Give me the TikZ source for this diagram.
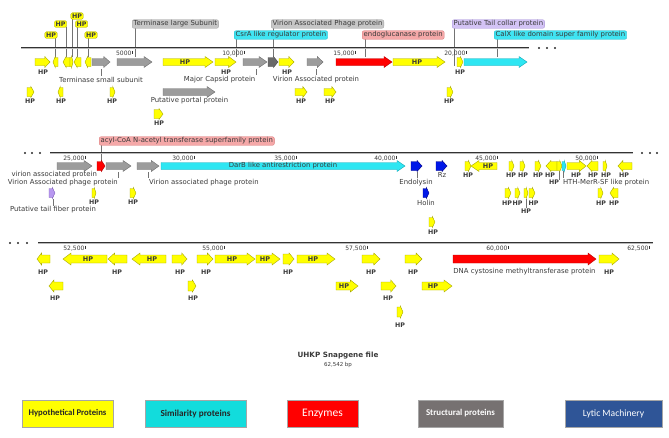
\documentclass[tikz,border=0pt]{standalone}
\usepackage{fontspec}
\setmainfont{DejaVu Sans}
\newfontfamily\legf{Carlito}
\usetikzlibrary{backgrounds}
\definecolor{yel}{HTML}{FFFF00}
\definecolor{yelD}{HTML}{A6A600}
\definecolor{gryF}{HTML}{9C9C9C}
\definecolor{gryD}{HTML}{6E6E6E}
\definecolor{dgryF}{HTML}{6A6A6A}
\definecolor{cynF}{HTML}{2EE6F2}
\definecolor{cynD}{HTML}{12A8B8}
\definecolor{redF}{HTML}{FF0000}
\definecolor{redD}{HTML}{B80000}
\definecolor{bluF}{HTML}{0018E8}
\definecolor{bluD}{HTML}{000080}
\definecolor{purF}{HTML}{B898F0}
\definecolor{purD}{HTML}{7D5CB8}
\definecolor{lgry}{HTML}{C6C6C6}
\definecolor{lgryD}{HTML}{A0A0A0}
\definecolor{lcyn}{HTML}{3FE4F2}
\definecolor{lcynD}{HTML}{20B8C8}
\definecolor{lpnk}{HTML}{F5A8A8}
\definecolor{lpnkD}{HTML}{D87878}
\definecolor{lpur}{HTML}{D3C3F5}
\definecolor{lpurD}{HTML}{A893D8}
\definecolor{txt}{HTML}{3A3A3A}
\definecolor{legC}{HTML}{12DCDC}
\definecolor{legG}{HTML}{767171}
\definecolor{legB}{HTML}{2F5597}
\definecolor{legBd}{HTML}{A6A6A6}

\def\hh{5.5}\def\bb{3.5}
\newcommand\farr[4]{%
 \pgfmathsetmacro\LL{#2-#1}%
 \pgfmathsetmacro\hl{\LL<12 ? 0.45*\LL : min(8,0.35*\LL)}%
 \pgfmathsetmacro\bh{\LL<12 ? \hh-1 : \bb}%
 \draw[#4] (#1,#3-\bh) -- (#2-\hl,#3-\bh) -- (#2-\hl,#3-\hh) -- (#2,#3) -- (#2-\hl,#3+\hh) -- (#2-\hl,#3+\bh) -- (#1,#3+\bh) -- cycle;}
\newcommand\rarr[4]{%
 \pgfmathsetmacro\LL{#2-#1}%
 \pgfmathsetmacro\hl{\LL<12 ? 0.45*\LL : min(8,0.35*\LL)}%
 \pgfmathsetmacro\bh{\LL<12 ? \hh-1 : \bb}%
 \draw[#4] (#2,#3-\bh) -- (#1+\hl,#3-\bh) -- (#1+\hl,#3-\hh) -- (#1,#3) -- (#1+\hl,#3+\hh) -- (#1+\hl,#3+\bh) -- (#2,#3+\bh) -- cycle;}
\newcount\hpcnt
\newcommand\HPat[2]{\global\advance\hpcnt by 1\relax\edef\nm{\the\hpcnt}\node[hpl] (hp\nm) at (#1,#2) {HP};}
\newcommand\HPin[2]{\global\advance\hpcnt by 1\relax\edef\nm{\the\hpcnt}\node[hpin] (hp\nm) at (#1,#2) {HP};}
\newcommand\HPbox[4]{\global\advance\hpcnt by 1\relax\edef\nm{\the\hpcnt}%
 \node[hpbox] (hb\nm) at (#1,#2) {HP};
 \coordinate (hbp\nm) at (#3,#4);
 \begin{pgfonlayer}{background}\draw[call] (hb\nm.south -| hbp\nm) -- (hbp\nm);\end{pgfonlayer}}
\newcount\tkcnt
\newcommand\mtick[3]{\global\advance\tkcnt by 1\relax\edef\nm{\the\tkcnt}%
 \draw[tickl] (#1,#2+2.5) -- (#1,#2+6);
 \node[tickn, anchor=east] (tk\nm) at (#1-0.4,#2+5.3) {#3};}
\newcommand\callup[3]{\coordinate (#1p) at (#2,#3);
 \begin{pgfonlayer}{background}\draw[call] (#1.south -| #1p) -- (#1p);\end{pgfonlayer}}
\newcommand\calldown[3]{\coordinate (#1p) at (#2,#3);
 \begin{pgfonlayer}{background}\draw[call] (#1p) -- (#1.north -| #1p);\end{pgfonlayer}}

\begin{document}
\begin{tikzpicture}[x=1pt,y=-1pt,
  Y/.style={fill=yel, draw=yelD, line width=0.4pt},
  G/.style={fill=gryF, draw=gryD, line width=0.4pt},
  DG/.style={fill=dgryF, draw=black!70, line width=0.4pt},
  C/.style={fill=cynF, draw=cynD, line width=0.4pt},
  R/.style={fill=redF, draw=redD, line width=0.4pt},
  B/.style={fill=bluF, draw=bluD, line width=0.4pt},
  P/.style={fill=purF, draw=purD, line width=0.4pt},
  genome/.style={line width=0.9pt, draw=black!80, double=gray!55, double distance=1pt},
  dotm/.style={fill=black!85},
  lab/.style={font=\fontsize{6.9}{7.5}\selectfont, text=txt, inner sep=0.5pt},
  hpl/.style={font=\bfseries\fontsize{6.3}{7}\selectfont, text=txt, inner sep=0.5pt},
  hpin/.style={font=\bfseries\fontsize{6.5}{7}\selectfont, text=txt, inner sep=0pt},
  hpbox/.style={font=\bfseries\fontsize{6.3}{7}\selectfont, text=txt, fill=yel, draw=yelD, line width=0.3pt, rounded corners=1.5pt, inner xsep=1.3pt, inner ysep=1pt},
  lbox/.style={lab, rounded corners=2pt, inner xsep=1.5pt, inner ysep=1pt, line width=0.3pt},
  call/.style={draw=black!55, line width=0.4pt},
  tickl/.style={draw=black!80, line width=0.5pt},
  tickn/.style={font=\fontsize{6}{6.5}\selectfont, text=txt, inner sep=0pt},
  leg/.style={draw=legBd, line width=0.5pt, minimum height=27pt, inner sep=0pt, font=\legf\bfseries\fontsize{8.7}{9}\selectfont}
]
\useasboundingbox (0,0) rectangle (669,437);

%================ ROW 1 =================
\draw[genome] (21,48) -- (529,48);
\foreach \d in {539,547,555} \fill[dotm] (\d,48) circle (1.2);
\mtick{132}{48}{5000}
\mtick{244}{48}{10,000}
\mtick{355}{48}{15,000}
\mtick{466}{48}{20,000}

\node[lbox, fill=lgry, draw=lgryD, anchor=west] (tls) at (132,24) {Terminase large Subunit};
\callup{tls}{135}{57}
\node[lbox, fill=lgry, draw=lgryD, anchor=west] (vapp) at (271,24) {Virion Associated Phage protein};
\callup{vapp}{273}{57}
\node[lbox, fill=lcyn, draw=lcynD, anchor=west] (csra) at (234,35) {CsrA like regulator protein};
\callup{csra}{236}{57}
\node[lbox, fill=lpnk, draw=lpnkD, anchor=west] (endo) at (362,35) {endoglucanase protein};
\callup{endo}{365}{57}
\node[lbox, fill=lpur, draw=lpurD, anchor=west] (ptc) at (452,24) {Putative Tail collar protein};
\callup{ptc}{454}{66}
\node[lbox, fill=lcyn, draw=lcynD, anchor=west] (calx) at (494,35) {CalX like domain super family protein};
\callup{calx}{497}{57}

\HPbox{51}{35}{55}{58}
\HPbox{60.5}{24}{66}{57}
\HPbox{77}{16}{72}{57}
\HPbox{81.5}{24}{77}{57}
\HPbox{91}{35}{88}{57}

\farr{35}{50}{62}{Y} \HPat{43}{72}
\rarr{53}{58}{62}{Y}
\rarr{63}{70}{62}{Y}
\farr{70}{73}{62}{Y}
\rarr{74}{81}{62}{Y}
\rarr{85}{91}{62}{Y}
\farr{92}{110}{62}{G}
\node[lab] (tss) at (101,79.5) {Terminase small subunit};
\calldown{tss}{101}{69}
\farr{117}{152}{62}{G}
\farr{163}{213}{62}{Y} \HPin{185}{62}
\farr{215}{236}{62}{Y} \HPat{226}{72}
\farr{243}{267}{62}{G}
\node[lab, anchor=east] (mcp) at (256,79.5) {Major Capsid protein};
\calldown{mcp}{256}{69}
\farr{268}{278}{62}{DG}
\farr{279}{294}{62}{Y} \HPat{287}{72}
\farr{307}{323}{62}{G}
\node[lab] (vap) at (316,79.5) {Virion Associated protein};
\calldown{vap}{316}{69}
\farr{336}{392}{62}{R}
\farr{393}{445}{62}{Y} \HPin{417}{62}
\farr{457}{463}{62}{Y} \HPat{460}{72}
\farr{464}{527}{62}{C}

\farr{27}{34}{92}{Y} \HPat{30}{101}
\rarr{58}{63}{92}{Y} \HPat{61}{101}
\farr{110}{115}{92}{Y} \HPat{112}{101}
\farr{163}{215}{92}{G}
\node[lab] (ppp) at (189.5,101) {Putative portal protein};
\farr{295}{307}{92}{Y} \HPat{301}{101}
\farr{324}{336}{92}{Y} \HPat{330}{101}
\farr{447}{453}{92}{Y} \HPat{449}{101}
\farr{154}{163}{114}{Y} \HPat{159}{123}

%================ ROW 2 =================
\draw[genome] (50,153) -- (633,153);
\foreach \d in {25,32,40,642,650,657} \fill[dotm] (\d,153) circle (1.2);
\mtick{85}{153}{25,000}
\mtick{194}{153}{30,000}
\mtick{296}{153}{35,000}
\mtick{396}{153}{40,000}
\mtick{497}{153}{45,000}
\mtick{597}{153}{50,000}

\node[lbox, fill=lpnk, draw=lpnkD, anchor=west] (acyl) at (99,141) {acyl-CoA N-acetyl transferase superfamily protein};
\callup{acyl}{101}{161}

\farr{57}{92}{166}{G}
\node[lab, anchor=west] (vap2) at (11,174.5) {virion associated protein};
\farr{97}{105}{166}{R}
\farr{106}{131}{166}{G}
\node[lab, anchor=east] (vaph1) at (118.5,182.5) {Virion Associated phage protein};
\calldown{vaph1}{118}{172}
\farr{137}{159}{166}{G}
\node[lab, anchor=west] (vaph2) at (148.5,182.5) {Virion associated phage protein};
\calldown{vaph2}{148}{172}
\farr{161}{405}{166}{C}
\node[lab] (darb) at (283,166) {DarB like antirestriction protein};
\farr{411}{422}{166}{B}
\node[lab] (endl) at (416,182.5) {Endolysin};
\calldown{endl}{417}{172}
\farr{436}{447}{166}{B}
\node[lab] (rz) at (442,175) {Rz};
\farr{465}{471}{166}{Y} \HPat{468}{175}
\rarr{471}{497}{166}{Y} \HPin{488}{166}
\farr{509}{514}{166}{Y} \HPat{511}{175}
\farr{520}{525}{166}{Y} \HPat{523}{175}
\farr{535}{541}{166}{Y} \HPat{538}{175}
\rarr{546}{557}{166}{Y} \HPat{550}{175}
\farr{557}{562}{166}{Y}
\node[hpl] (hpx) at (554,182.5) {HP};
\calldown{hpx}{559}{171}
\farr{562}{566}{166}{C}
\node[lab, anchor=west] (hth) at (562.3,182.5) {HTH-MerR-SF like protein};
\calldown{hth}{563}{171}
\farr{567}{586}{166}{Y} \HPat{576}{175}
\rarr{587}{598}{166}{Y} \HPat{593}{175}
\farr{603}{607}{166}{Y} \HPat{606}{175}
\rarr{618}{632}{166}{Y} \HPat{624}{175}

\farr{49}{55}{193}{P}
\node[lab] (ptf) at (53,210) {Putative tail fiber protein};
\calldown{ptf}{53}{199}
\farr{92}{96}{193}{Y} \HPat{94}{202}
\farr{130}{136}{193}{Y} \HPat{133}{202}
\farr{423}{429}{193}{B}
\node[lab] (holin) at (426,203) {Holin};
\farr{505}{511}{193}{Y} \HPat{507}{203}
\farr{515}{520}{193}{Y} \HPat{517.5}{203}
\farr{524}{528}{193}{Y}
\node[hpl] (hpy) at (526,211) {HP};
\calldown{hpy}{526}{199}
\farr{529}{535}{193}{Y} \HPat{533.5}{203}
\farr{598}{603}{193}{Y} \HPat{601}{203}
\rarr{610}{618}{193}{Y} \HPat{614}{203}
\farr{429}{435}{222}{Y} \HPat{433}{232}

%================ ROW 3 =================
\def\hh{6}\def\bb{4}
\draw[genome] (38,243) -- (653,243);
\foreach \d in {10,18,27} \fill[dotm] (\d,243) circle (1.2);
\mtick{85}{243}{52,500}
\mtick{224}{243}{55,000}
\mtick{367}{243}{57,500}
\mtick{508}{243}{60,000}
\mtick{649}{243}{62,500}

\rarr{37}{50}{259}{Y} \HPat{43}{272}
\rarr{63}{107}{259}{Y} \HPin{88}{259}
\rarr{108}{127}{259}{Y} \HPat{117}{272}
\rarr{132}{166}{259}{Y} \HPin{152}{259}
\farr{172}{187}{259}{Y} \HPat{180}{272}
\farr{197}{213}{259}{Y} \HPat{206}{272}
\farr{215}{255}{259}{Y} \HPin{232}{259}
\farr{256}{280}{259}{Y} \HPin{265}{259}
\farr{283}{294}{259}{Y} \HPat{288}{272}
\farr{297}{335}{259}{Y} \HPin{313}{259}
\farr{362}{380}{259}{Y} \HPat{371}{272}
\farr{405}{422}{259}{Y} \HPat{413}{272}
\farr{453}{596}{259}{R}
\node[lab] (dnac) at (524.5,272) {DNA cystosine methyltransferase protein};
\farr{599}{619}{259}{Y} \HPat{609}{272}

\rarr{49}{63}{286}{Y} \HPat{55}{298}
\farr{188}{196}{286}{Y} \HPat{193}{298}
\farr{336}{358}{286}{Y} \HPin{344}{286}
\farr{381}{396}{286}{Y} \HPat{388}{298}
\farr{422}{452}{286}{Y} \HPin{433}{286}
\farr{397}{403}{312}{Y} \HPat{400}{325}

%================ TITLE =================
\node[font=\bfseries\fontsize{7.2}{8}\selectfont, text=txt, inner sep=0pt] (title) at (338,356) {UHKP Snapgene file};
\node[font=\fontsize{5.5}{6}\selectfont, text=txt, inner sep=0pt] (bp) at (338,365) {62,542 bp};

%================ LEGEND =================
\node[leg, fill=yel, minimum width=91pt, text=black!85] (lg1) at (67.5,413.5) {Hypothetical Proteins};
\node[leg, fill=legC, minimum width=101pt, text=black!85, font=\legf\bfseries\fontsize{9.2}{10}\selectfont] (lg2) at (195.5,413.5) {Similarity proteins};
\node[leg, fill=redF, minimum width=71pt, text=white, font=\legf\fontsize{11.5}{12}\selectfont] (lg3) at (322.5,413.5) {Enzymes};
\node[leg, fill=legG, minimum width=85pt, text=white, font=\legf\bfseries\fontsize{8.9}{9}\selectfont] (lg4) at (460.5,413.5) {Structural proteins};
\node[leg, fill=legB, minimum width=97pt, text=white, font=\legf\fontsize{9.6}{10}\selectfont] (lg5) at (613.5,413.5) {Lytic Machinery};
\end{tikzpicture}
\end{document}
